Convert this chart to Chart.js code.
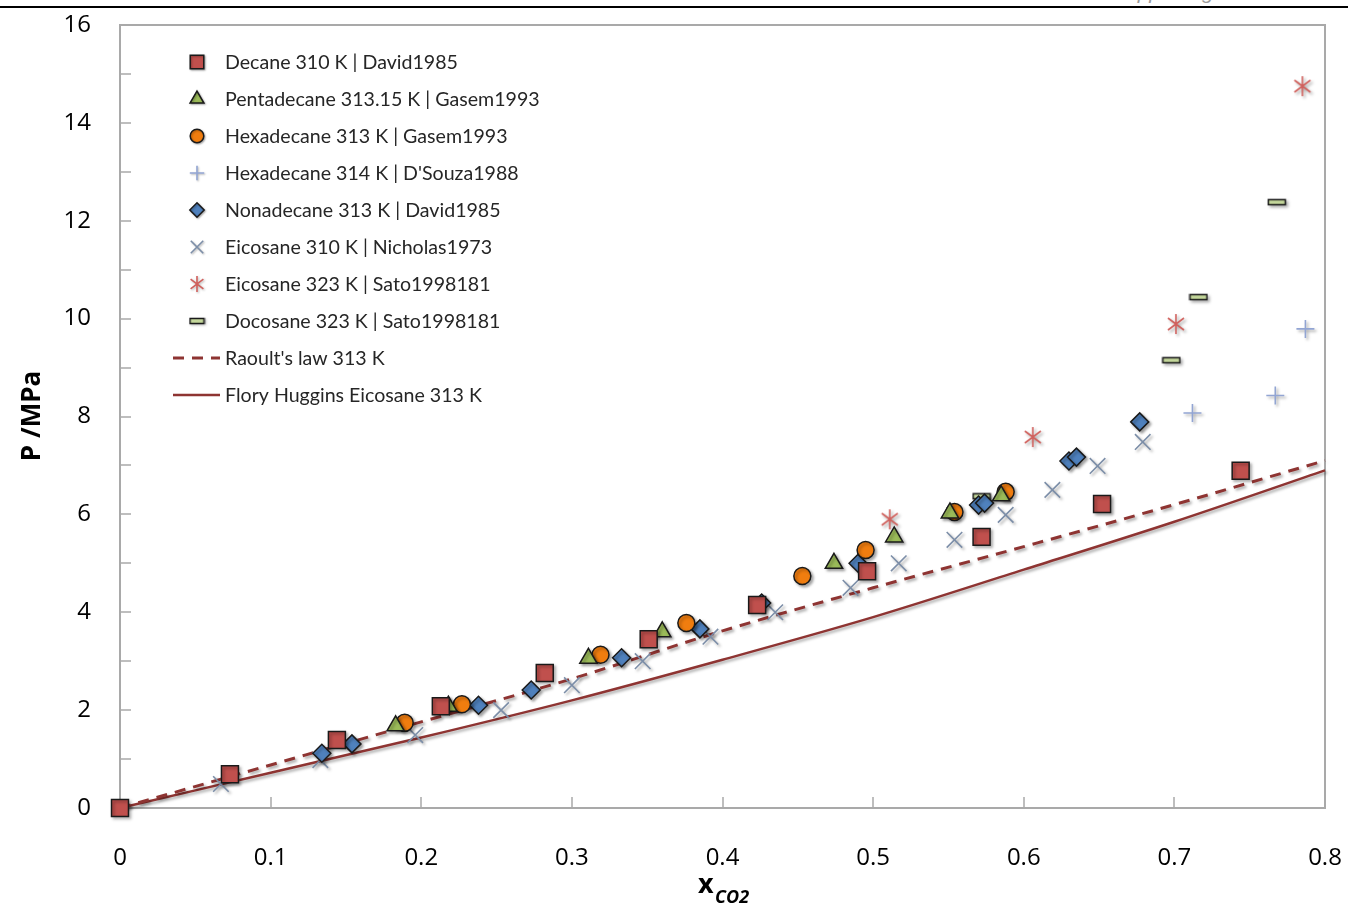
<!DOCTYPE html>
<html>
<head>
<meta charset="utf-8">
<script src="https://cdn.jsdelivr.net/npm/chart.js@4.4.0/dist/chart.umd.min.js"></script>
<style>
  body { margin: 0; background: #fff; overflow: hidden; }
  #wrap { position: relative; width: 1348px; height: 907px; overflow: hidden; }
  #rule { position: absolute; left: 0; top: 6px; width: 1348px; height: 2px; background: #000; }
  #hdr { position: absolute; left: 1112px; top: -20px; font: italic 21px 'Liberation Sans', sans-serif; color: #9a9a9a; white-space: nowrap; }
  canvas { position: absolute; left: 0; top: 0; }
</style>
</head>
<body>
<div id="wrap">
  <div id="hdr">Supporting Information</div>
  <div id="rule"></div>
  <canvas id="chart" width="1348" height="907"></canvas>
</div>
<script>
// values
const decaneX = [0, 0.073, 0.144, 0.213, 0.282, 0.351, 0.423, 0.496, 0.572, 0.652, 0.744];
const decaneP = [0, 0.69, 1.39, 2.08, 2.76, 3.45, 4.15, 4.84, 5.54, 6.21, 6.89];

const pentadecaneX = [0.183, 0.218, 0.311, 0.360, 0.474, 0.514, 0.551, 0.585];
const pentadecaneP = [1.68, 2.08, 3.06, 3.60, 5.00, 5.54, 6.03, 6.38];

const hexadecaneX = [0.189, 0.227, 0.319, 0.376, 0.453, 0.495, 0.554, 0.588];
const hexadecaneP = [1.74, 2.12, 3.13, 3.78, 4.74, 5.27, 6.05, 6.46];

const hexadecane314X = [0.712, 0.767, 0.787];
const hexadecane314P = [8.07, 8.43, 9.79];

const nonadecaneX = [0.134, 0.154, 0.238, 0.273, 0.333, 0.385, 0.426, 0.490, 0.570, 0.574, 0.630, 0.635, 0.677];
const nonadecaneP = [1.12, 1.31, 2.10, 2.41, 3.07, 3.66, 4.19, 5.00, 6.19, 6.23, 7.09, 7.17, 7.89];

const eicosane310X = [0.067, 0.133, 0.196, 0.253, 0.300, 0.347, 0.392, 0.435, 0.485, 0.517, 0.554, 0.588, 0.619, 0.649, 0.679];
const eicosane310P = [0.49, 0.98, 1.49, 2.00, 2.51, 3.00, 3.50, 4.00, 4.50, 5.00, 5.48, 5.99, 6.50, 6.99, 7.48];

const eicosane323X = [0.511, 0.606, 0.701, 0.785];
const eicosane323P = [5.90, 7.58, 9.89, 14.75];

const docosaneX = [0.572, 0.698, 0.716, 0.768];
const docosaneP = [6.37, 9.15, 10.44, 12.38];

const modelX = [0, 0.1, 0.2, 0.3, 0.4, 0.5, 0.6, 0.7, 0.8];
const raoultP = [0, 0.88, 1.76, 2.64, 3.62, 4.50, 5.34, 6.20, 7.10];
const floryP = [0, 0.72, 1.44, 2.20, 3.03, 3.90, 4.87, 5.85, 6.90];

const xTicks = [0, 0.1, 0.2, 0.3, 0.4, 0.5, 0.6, 0.7, 0.8];

const labels = [
  'Decane 310 K | David1985',
  'Pentadecane 313.15 K | Gasem1993',
  'Hexadecane 313 K | Gasem1993',
  "Hexadecane 314 K | D'Souza1988",
  'Nonadecane 313 K | David1985',
  'Eicosane 310 K | Nicholas1973',
  'Eicosane 323 K | Sato1998181',
  'Docosane 323 K | Sato1998181',
  "Raoult's law 313 K",
  'Flory Huggins Eicosane 313 K'
];

function pts(xs, ys) {
  return xs.map((x, i) => ({ x: x, y: ys[i] }));
}

// excel-like asterisk: vertical bar plus an x
function asteriskImg(color, r) {
  const c = document.createElement('canvas');
  c.width = c.height = 2 * r + 4;
  const g = c.getContext('2d');
  const m = r + 2;
  g.strokeStyle = color;
  g.lineWidth = 1.6;
  g.beginPath();
  g.moveTo(m, m - r); g.lineTo(m, m + r);
  const d = r * 0.8;
  g.moveTo(m - d, m - d * 0.75); g.lineTo(m + d, m + d * 0.75);
  g.moveTo(m - d, m + d * 0.75); g.lineTo(m + d, m - d * 0.75);
  g.stroke();
  return c;
}

function dashImg(w, h) {
  const c = document.createElement('canvas');
  c.width = w + 3; c.height = h + 3;
  const g = c.getContext('2d');
  g.fillStyle = '#c4d79b';
  g.strokeStyle = '#1a1a1a';
  g.lineWidth = 1.5;
  g.fillRect(1.5, 1.5, w, h);
  g.strokeRect(1.5, 1.5, w, h);
  return c;
}

const starImg = asteriskImg('#d0605c', 10);
const starImgSmall = asteriskImg('#d0605c', 8);
const dash = dashImg(17, 5);
const dashSmall = dashImg(14, 5);

const markerSets = [
  { data: pts(decaneX, decaneP), pointStyle: 'rect', pointRadius: 12, pointBackgroundColor: '#c0504d', pointBorderColor: '#1a1a1a', pointBorderWidth: 1.5 },
  { data: pts(pentadecaneX, pentadecaneP), pointStyle: 'triangle', pointRadius: 10, pointBackgroundColor: '#9bbb59', pointBorderColor: '#1a1a1a', pointBorderWidth: 1.5 },
  { data: pts(hexadecaneX, hexadecaneP), pointStyle: 'circle', pointRadius: 8.5, pointBackgroundColor: '#f07d0f', pointBorderColor: '#1a1a1a', pointBorderWidth: 1.5 },
  { data: pts(hexadecane314X, hexadecane314P), pointStyle: 'cross', pointRadius: 9, pointBackgroundColor: '#92a5d3', pointBorderColor: '#92a5d3', pointBorderWidth: 1.6 },
  { data: pts(nonadecaneX, nonadecaneP), pointStyle: 'rectRot', pointRadius: 9, pointBackgroundColor: '#4f81bd', pointBorderColor: '#1a1a1a', pointBorderWidth: 1.5 },
  { data: pts(eicosane310X, eicosane310P), pointStyle: 'crossRot', pointRadius: 11, pointBackgroundColor: '#7c8ea8', pointBorderColor: '#7c8ea8', pointBorderWidth: 1.6 },
  { data: pts(eicosane323X, eicosane323P), pointStyle: starImg, pointRadius: 10 },
  { data: pts(docosaneX, docosaneP), pointStyle: dash, pointRadius: 9 }
];

const datasets = markerSets.map((s, i) => Object.assign({
  label: labels[i],
  showLine: false,
  clip: false,
  order: 0
}, s));

datasets.push({
  label: labels[8],
  data: pts(modelX, raoultP),
  showLine: true,
  pointRadius: 0,
  borderColor: '#8e3432',
  borderWidth: 3,
  borderDash: [11, 8],
  cubicInterpolationMode: 'monotone',
  clip: false,
  order: 1
});
datasets.push({
  label: labels[9],
  data: pts(modelX, floryP),
  showLine: true,
  pointRadius: 0,
  borderColor: '#8e3432',
  borderWidth: 2.5,
  cubicInterpolationMode: 'monotone',
  clip: false,
  order: 1
});

const frame = {
  id: 'frame',
  beforeDatasetsDraw(chart) {
    const ctx = chart.ctx;
    ctx.save();
    ctx.shadowColor = 'rgba(0,0,0,0.35)';
    ctx.shadowBlur = 3;
    ctx.shadowOffsetX = 2;
    ctx.shadowOffsetY = 2;
  },
  afterDatasetsDraw(chart) {
    chart.ctx.restore();
  },
  beforeDraw(chart) {
    const ctx = chart.ctx;
    const a = chart.chartArea;
    const xs = chart.scales.x, ys = chart.scales.y;
    ctx.save();
    ctx.strokeStyle = '#a9a9a9';
    ctx.lineWidth = 2;
    ctx.strokeRect(a.left, a.top, a.right - a.left, a.bottom - a.top);
    ctx.lineWidth = 1.5;
    ctx.beginPath();
    ys.ticks.forEach(t => {
      const y = Math.round(ys.getPixelForValue(t.value));
      ctx.moveTo(a.left, y); ctx.lineTo(a.left + 11, y);
    });
    xs.ticks.forEach(t => {
      const x = Math.round(xs.getPixelForValue(t.value));
      ctx.moveTo(x, a.bottom); ctx.lineTo(x, a.bottom - 11);
    });
    ctx.stroke();
    ctx.restore();
  },
  afterDraw(chart) {
    const ctx = chart.ctx;
    ctx.save();
    // axis titles
    ctx.fillStyle = '#000';
    ctx.save();
    ctx.translate(33, 416);
    ctx.rotate(-Math.PI / 2);
    ctx.textAlign = 'center';
    ctx.textBaseline = 'middle';
    ctx.font = "bold 26px 'Open Sans', sans-serif";
    ctx.fillText('P /MPa', 0, 0);
    ctx.restore();

    ctx.textBaseline = 'alphabetic';
    ctx.textAlign = 'left';
    ctx.font = "bold 27px 'Open Sans', sans-serif";
    ctx.fillText('x', 698, 893);
    ctx.font = "italic bold 18px 'Open Sans', sans-serif";
    ctx.fillText('CO2', 715, 903);

    // legend inside the plot
    const rowY = [62, 99, 136, 173, 210, 247, 284, 321, 358, 395];
    ctx.font = "19.6px Lato, sans-serif";
    ctx.textBaseline = 'middle';
    chart.data.datasets.forEach((ds, i) => {
      const y = rowY[i];
      if (i < 8) {
        let style = ds.pointStyle;
        if (style === starImg) style = starImgSmall;
        if (style === dash) style = dashSmall;
        ctx.save();
        ctx.shadowColor = 'rgba(0,0,0,0.3)';
        ctx.shadowBlur = 2;
        ctx.shadowOffsetX = 1;
        ctx.shadowOffsetY = 1;
        ctx.fillStyle = ds.pointBackgroundColor || '#000';
        ctx.strokeStyle = ds.pointBorderColor || '#000';
        ctx.lineWidth = ds.pointBorderWidth || 1;
        Chart.helpers.drawPoint(ctx, { pointStyle: style, radius: (ds.pointRadius || 8) * 0.8, rotation: 0, borderWidth: ds.pointBorderWidth || 1 }, 197, y);
        ctx.restore();
      } else {
        ctx.save();
        ctx.strokeStyle = ds.borderColor;
        ctx.lineWidth = ds.borderWidth;
        ctx.setLineDash(ds.borderDash || []);
        ctx.beginPath();
        ctx.moveTo(173, y); ctx.lineTo(220, y);
        ctx.stroke();
        ctx.restore();
      }
      ctx.fillStyle = '#262626';
      ctx.fillText(ds.label, 225, y + 1);
    });
    ctx.restore();
  }
};

new Chart(document.getElementById('chart'), {
  type: 'scatter',
  data: { datasets: datasets },
  options: {
    responsive: false,
    animation: false,
    layout: { padding: { top: 25, right: 23, left: 0, bottom: 0 } },
    plugins: { legend: { display: false }, tooltip: { enabled: false } },
    scales: {
      x: {
        type: 'linear',
        min: 0,
        max: 0.8,
        afterBuildTicks(scale) { scale.ticks = xTicks.map(v => ({ value: v })); },
        afterFit(scale) {
          scale.height = 99;
          scale.paddingLeft = 0;
          scale.paddingRight = 0;
        },
        grid: { display: false, drawTicks: false },
        border: { display: false },
        ticks: {
          padding: 36,
          color: '#000',
          font: { family: "'Open Sans', sans-serif", size: 24 },
          callback: v => String(Math.round(v * 10) / 10)
        }
      },
      y: {
        type: 'linear',
        min: 0,
        max: 16,
        afterFit(scale) {
          scale.width = 120;
          scale.paddingTop = 0;
          scale.paddingBottom = 0;
        },
        grid: { display: false, drawTicks: false },
        border: { display: false },
        ticks: {
          stepSize: 1,
          padding: 29,
          color: '#000',
          font: { family: "'Open Sans', sans-serif", size: 24 },
          callback: v => (v % 2 === 0 ? String(v) : '')
        }
      }
    }
  },
  plugins: [frame]
});
</script>
</body>
</html>
